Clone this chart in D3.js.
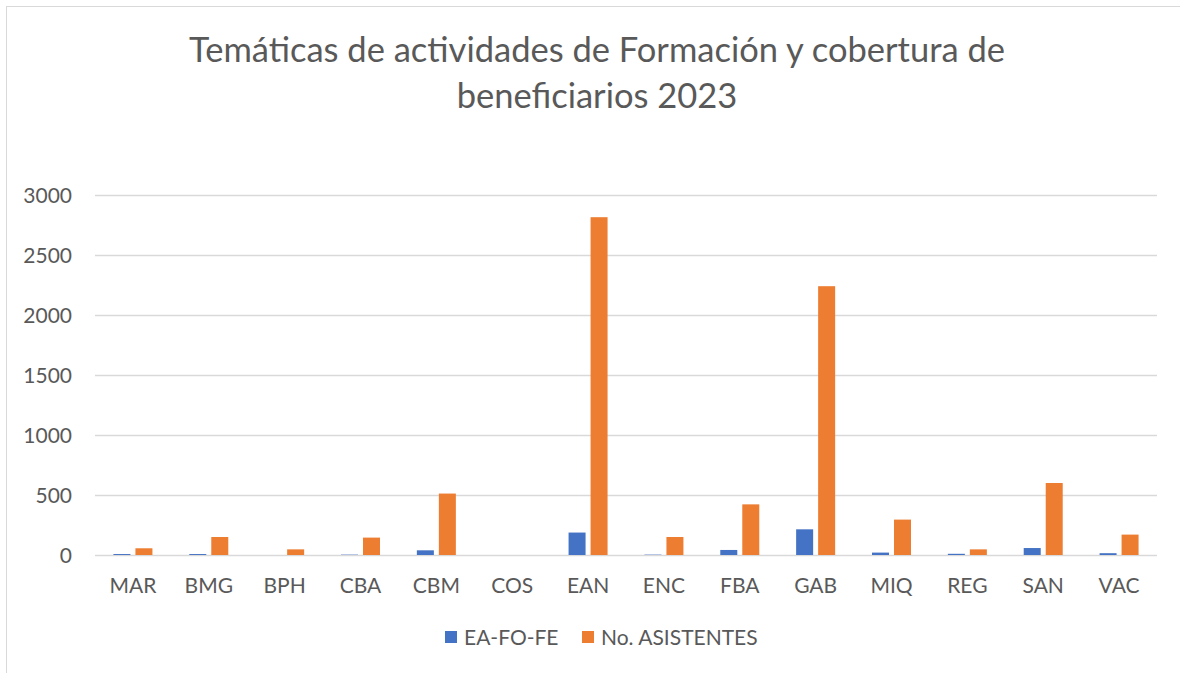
<!DOCTYPE html>
<html>
  <head>
    <meta charset="utf-8">
    <title>Temáticas de actividades</title>
    <script src="https://d3js.org/d3.v7.min.js"></script>
    <style>
      body { margin: 0; background: #fff; }
      text { font-family: Lato, "Open Sans", sans-serif; fill: #595959; }
    </style>
  </head>
  <body>
    <script>
      // data
      const categories = ["MAR", "BMG", "BPH", "CBA", "CBM", "COS", "EAN", "ENC", "FBA", "GAB", "MIQ", "REG", "SAN", "VAC"];
      const eaFoFe = [8, 8, 0, 3, 39, 0, 187, 3, 42, 214, 20, 10, 58, 15];
      const asistentes = [56, 150, 47, 145, 512, 0, 2815, 150, 422, 2240, 295, 47, 600, 170];
      const seriesNames = ["EA-FO-FE", "No. ASISTENTES"];
      const seriesColors = ["#4472c4", "#ed7d31"];
      const yTicks = [0, 500, 1000, 1500, 2000, 2500, 3000];
      const titleLines = ["Temáticas de actividades de Formación y cobertura de", "beneficiarios 2023"];

      const width = 1180;
      const height = 673;
      const plot = {left: 95, right: 1157, top: 195, bottom: 555};

      const svg = d3.select("body")
        .append("svg")
          .attr("width", width)
          .attr("height", height);

      // chart border
      svg.append("rect")
        .attr("x", 6.5)
        .attr("y", 6.5)
        .attr("width", 1200)
        .attr("height", 700)
        .attr("fill", "none")
        .attr("stroke", "#d9d9d9");

      // title
      svg.append("g")
        .selectAll("text")
        .data(titleLines)
        .enter().append("text")
          .attr("x", 597)
          .attr("y", function(d, i) { return 62 + i * 46; })
          .attr("text-anchor", "middle")
          .style("font-size", "34.5px")
          .text(function(d) { return d; });

      const x = d3.scaleBand()
        .domain(categories)
        .range([plot.left, plot.right]);

      const y = d3.scaleLinear()
        .domain([0, 3000])
        .range([plot.bottom, plot.top]);

      const barW = 17;
      const gap = 5;

      // gridlines + y labels
      const yAxis = d3.axisLeft(y)
        .tickValues(yTicks)
        .tickFormat(d3.format("d"))
        .tickSize(-(plot.right - plot.left))
        .tickPadding(23);

      const yg = svg.append("g")
        .attr("transform", "translate(" + plot.left + ",0)")
        .call(yAxis);
      yg.select(".domain").remove();
      yg.selectAll(".tick line").attr("stroke", "#d9d9d9").attr("stroke-width", 1.3);
      yg.selectAll(".tick text")
        .style("font-size", "21px")
        .attr("fill", "#595959")
        .attr("dy", "0.35em");

      // x labels
      const xAxis = d3.axisBottom(x).tickSize(0).tickPadding(23);
      const xg = svg.append("g")
        .attr("transform", "translate(0," + plot.bottom + ")")
        .call(xAxis);
      xg.select(".domain").remove();
      xg.selectAll(".tick text")
        .style("font-size", "21px")
        .attr("fill", "#595959");

      // bars
      const series = [eaFoFe, asistentes];
      series.forEach(function(values, s) {
        svg.append("g")
          .selectAll("rect")
          .data(values)
          .enter().append("rect")
            .attr("x", function(d, i) {
              const c = x(categories[i]) + x.bandwidth() / 2;
              return s === 0 ? c - gap / 2 - barW : c + gap / 2;
            })
            .attr("y", function(d) { return y(d); })
            .attr("width", barW)
            .attr("height", function(d) { return plot.bottom - y(d); })
            .attr("fill", seriesColors[s]);
      });

      // legend
      const legendX = [445, 582];
      const lg = svg.append("g");
      seriesNames.forEach(function(name, i) {
        lg.append("rect")
          .attr("x", legendX[i])
          .attr("y", 631)
          .attr("width", 12)
          .attr("height", 12)
          .attr("fill", seriesColors[i]);
        lg.append("text")
          .attr("x", legendX[i] + 19)
          .attr("y", 645)
          .style("font-size", "21px")
          .text(name);
      });
    </script>
  </body>
</html>
